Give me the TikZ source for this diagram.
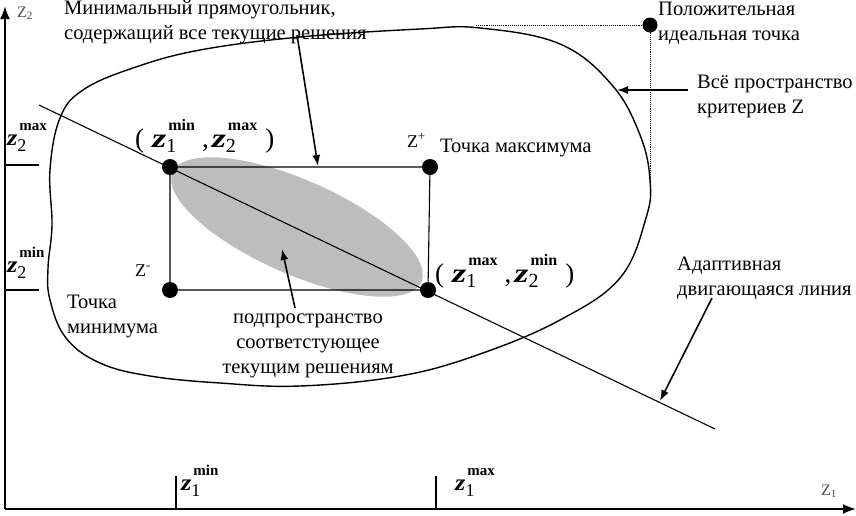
\documentclass[tikz,border=0pt]{standalone}
\usepackage{fontspec}
\setmainfont{Liberation Serif}
\usetikzlibrary{arrows.meta}
\newsavebox\zsupbox
\newsavebox\zsubbox
% #1 sub, #2 sup, #3 z size, #4 sup size, #5 sub size, #6 sup raise, #7 sub lower, #8 z h-scale
\newcommand{\zgen}[8]{%
  \scalebox{#8}[1]{\fontsize{#3}{#3}\selectfont\bfseries\itshape z}%
  \sbox\zsupbox{\fontsize{#4}{#4}\selectfont\bfseries #2}%
  \sbox\zsubbox{\fontsize{#5}{#5}\selectfont #1}%
  \rlap{\raisebox{-#7}{\usebox\zsubbox}}%
  \hspace{2pt}\raisebox{#6}{\usebox\zsupbox}}
\newcommand{\zbig}[2]{\zgen{#1}{#2}{27}{16}{20}{17pt}{5pt}{1.35}}
\newcommand{\zsm}[2]{\zgen{#1}{#2}{23}{15}{18}{15pt}{6pt}{1.15}}
\begin{document}
\begin{tikzpicture}[x=1pt,y=-1pt,
  txt/.style={inner sep=0pt, font=\fontsize{20.5}{24.5}\selectfont, align=left},
  ctxt/.style={inner sep=0pt, font=\fontsize{20.5}{25}\selectfont, align=center},
  mlab/.style={inner sep=0pt, font=\fontsize{27}{28}\selectfont},
  slab/.style={inner sep=0pt},
  axlab/.style={inner sep=0pt, text=black!70, font=\fontsize{16}{16}\selectfont},
  dot/.style={circle, fill=black, inner sep=0pt, minimum size=16pt},
  ptr/.style={-{Latex[length=11pt,width=8pt]}, line width=1.6pt},
  axis/.style={line width=2pt, -{Latex[length=13pt,width=10pt]}},
  thin line/.style={line width=1.1pt}]
\useasboundingbox (0,0) rectangle (856,515);

% subspace ellipse
\begin{scope}[shift={(297,227)}, rotate=-23.8]
  \fill[black!26] (0,0) ellipse [x radius=136, y radius=47];
\end{scope}

% axes
\coordinate (o) at (5,509);
\coordinate (ytop) at (5,6);
\coordinate (xend) at (856,509);
\draw[axis] (o) -- (ytop);
\draw[axis] (o) -- (xend);

% ticks
\coordinate (t1a) at (176,476); \coordinate (t1b) at (176,509);
\coordinate (t2a) at (436,476); \coordinate (t2b) at (436,509);
\coordinate (t3a) at (5,165);  \coordinate (t3b) at (39,165);
\coordinate (t4a) at (5,290);  \coordinate (t4b) at (39,290);
\draw[thin line] (t1a) -- (t1b);
\draw[thin line] (t2a) -- (t2b);
\draw[thin line] (t3a) -- (t3b);
\draw[thin line] (t4a) -- (t4b);

% criteria space
\draw[line width=1.4pt] plot[smooth cycle, tension=0.65] coordinates {
  (420,29) (480,28) (560,44) (612,85) (640,135) (650,180) (646,218)
  (620,278) (560,320) (480,354) (400,376) (300,386) (220,383)
  (150,376) (100,363) (66,338) (50,300) (48,268) (52,225) (50,170)
  (60,118) (83,90) (133,68) (200,50) (300,37)};

% rectangle points
\node[dot] (tl) at (170,167) {};
\node[dot] (tr) at (430,167) {};
\node[dot] (bl) at (170,290) {};
\node[dot] (br) at (428,290) {};
\draw[thin line] (tl.center) -- (tr.center) -- (br.center) -- (bl.center) -- cycle;

% adaptive line
\coordinate (ls) at (39,105);
\coordinate (le) at (715,429);
\draw[thin line] (ls) -- (le);

% ideal point
\node[dot, minimum size=15pt] (ideal) at (650,25) {};
\coordinate (dh) at (476,25);
\coordinate (dv) at (650,186);
\draw[densely dotted, line width=0.9pt] (dh) -- (ideal.center) -- (dv);

% texts (anchor on the baseline of the last line)
\node[txt, anchor=base west] (trect) at (64,39) {Минимальный прямоугольник,\\содержащий все текущие решения};
\node[txt, anchor=base west] (tideal) at (658,40) {Положительная\\идеальная точка};
\node[txt, anchor=base west] (tspace) at (697,113) {Всё пространство\\критериев Z};
\node[txt, anchor=base west] (tmax) at (440,152) {Точка максимума};
\node[txt, anchor=base west] (tadapt) at (677,295) {Адаптивная\\двигающаяся линия};
\node[txt, anchor=base west] (tmin) at (67,333) {Точка\\минимума};
\node[ctxt, anchor=base] (tsub) at (308,373) {подпространство\\соответстующее\\текущим решениям};

\node[inner sep=0pt, anchor=base west, font=\fontsize{18}{18}\selectfont] (zp) at (407,147) {Z\textsuperscript{+}};
\node[inner sep=0pt, anchor=base west, font=\fontsize{18}{18}\selectfont] (zm) at (135,276) {Z\textsuperscript{-}};

\node[axlab, anchor=base west] (z2ax) at (17,17) {Z\textsubscript{2}};
\node[axlab, anchor=base west] (z1ax) at (821,495) {Z\textsubscript{1}};

% coordinate labels
\node[mlab, anchor=base west] (p1) at (135,147) {(\kern8pt\zbig{1}{min}\kern7pt,\kern3pt\zbig{2}{max}\kern8pt)};
\node[mlab, anchor=base west] (p2) at (435,282) {(\kern8pt\zbig{1}{max}\kern7pt,\kern3pt\zbig{2}{min}\kern8pt)};
\node[slab, anchor=base west] (l2max) at (7,145) {\zsm{2}{max}};
\node[slab, anchor=base west] (l2min) at (7,272) {\zsm{2}{min}};
\node[slab, anchor=base west] (l1min) at (181,490) {\zsm{1}{min}};
\node[slab, anchor=base west] (l1max) at (455,490) {\zsm{1}{max}};

% pointer arrows
\coordinate (a1s) at (297,35);  \coordinate (a1e) at (318,166);
\coordinate (a2s) at (688,90);  \coordinate (a2e) at (617,90);
\coordinate (a3s) at (712,298); \coordinate (a3e) at (660,401);
\coordinate (a4s) at (295,308); \coordinate (a4e) at (282,249);
\draw[ptr] (a1s) -- (a1e);
\draw[ptr] (a2s) -- (a2e);
\draw[ptr] (a3s) -- (a3e);
\draw[ptr] (a4s) -- (a4e);
\end{tikzpicture}
\end{document}
